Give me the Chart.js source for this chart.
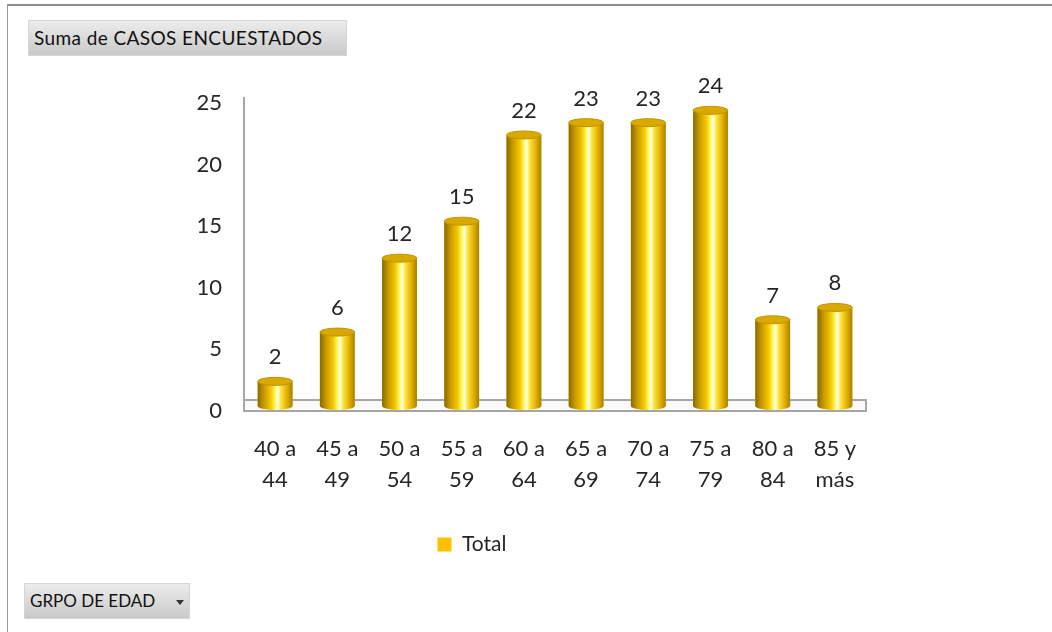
<!DOCTYPE html>
<html>
<head>
<meta charset="utf-8">
<script src="https://cdn.jsdelivr.net/npm/chart.js@4/dist/chart.umd.min.js"></script>
<style>
  html, body { margin: 0; padding: 0; background: #fff; }
  #wrap { position: relative; width: 1052px; height: 632px; overflow: hidden; }
  #frame { position: absolute; left: 7px; top: 4px; right: -2px; bottom: -2px; border-top: 2px solid #8c8c8c; border-left: 1px solid #9a9a9a; }
  .btn {
    position: absolute; box-sizing: border-box;
    background: linear-gradient(#ececec, #c9c9c9);
    border: 1px solid #d6d6d6;
    font-family: Lato, "Noto Sans", sans-serif; color: #111;
    line-height: 34px; padding-left: 5px; white-space: nowrap;
  }
  #title { left: 28px; top: 20px; width: 319px; height: 36px; font-size: 19px; letter-spacing: 0.4px; }
  #field { left: 24px; top: 583px; width: 166px; height: 36px; font-size: 17px; }
  #field .arrow { position: absolute; left: 151px; top: 16px; width: 0; height: 0;
    border-left: 4px solid transparent; border-right: 4px solid transparent; border-top: 5px solid #333; }
  canvas { position: absolute; left: 0; top: 0; }
</style>
</head>
<body>
<div id="wrap">
  <div id="frame"></div>
  <canvas id="myBarChart" width="1052" height="632"></canvas>
  <div class="btn" id="title">Suma de CASOS ENCUESTADOS</div>
  <div class="btn" id="field">GRPO DE EDAD<span class="arrow"></span></div>
</div>
<script>
const categories = [["40 a", "44"], ["45 a", "49"], ["50 a", "54"], ["55 a", "59"], ["60 a", "64"],
                    ["65 a", "69"], ["70 a", "74"], ["75 a", "79"], ["80 a", "84"], ["85 y", "más"]];
const totals = [2, 6, 12, 15, 22, 23, 23, 24, 7, 8];
const yTicks = [0, 5, 10, 15, 20, 25];
const seriesName = "Total";

const textColor = "#262626";
const fontFamily = "Lato, 'Noto Sans', sans-serif";

function cylinderGradient(ctx, left, right) {
    const g = ctx.createLinearGradient(left, 0, right, 0);
    g.addColorStop(0, "#8a6a00");
    g.addColorStop(0.18, "#c79a00");
    g.addColorStop(0.38, "#f5c800");
    g.addColorStop(0.52, "#ffff70");
    g.addColorStop(0.58, "#fffff0");
    g.addColorStop(0.66, "#ffe640");
    g.addColorStop(0.85, "#e0ae00");
    g.addColorStop(1, "#a88000");
    return g;
}

// floor slab under the bars
const floorPlugin = {
    id: "floor",
    beforeDatasetsDraw(chart) {
        const { ctx, chartArea } = chart;
        const y0 = chart.scales.y.getPixelForValue(0);
        ctx.save();
        ctx.fillStyle = "#fafafa";
        ctx.strokeStyle = "#a6a6a6";
        ctx.lineWidth = 2;
        ctx.fillRect(chartArea.left, y0 - 6, chartArea.right - chartArea.left, 11);
        ctx.strokeRect(chartArea.left, y0 - 6, chartArea.right - chartArea.left, 11);
        ctx.restore();
    }
};

// shading, caps and value labels on top of the library's bars
const cylinderPlugin = {
    id: "cylinder",
    afterDatasetsDraw(chart) {
        const { ctx } = chart;
        const meta = chart.getDatasetMeta(0);
        ctx.save();
        meta.data.forEach((bar, i) => {
            const { x, y, base, width } = bar.getProps(["x", "y", "base", "width"], true);
            const left = x - width / 2, right = x + width / 2;
            const ry = 4;
            ctx.fillStyle = cylinderGradient(ctx, left, right);
            ctx.beginPath();
            ctx.moveTo(left, y);
            ctx.lineTo(left, base);
            ctx.ellipse(x, base, width / 2, ry, 0, Math.PI, 0, true);
            ctx.lineTo(right, y);
            ctx.closePath();
            ctx.fill();
            // top cap
            ctx.beginPath();
            ctx.ellipse(x, y, width / 2, ry, 0, 0, Math.PI * 2);
            ctx.fillStyle = "#d9a900";
            ctx.fill();
            ctx.strokeStyle = "#c29400";
            ctx.lineWidth = 1;
            ctx.stroke();
            // value label
            ctx.fillStyle = textColor;
            ctx.font = "22px " + fontFamily;
            ctx.textAlign = "center";
            ctx.textBaseline = "alphabetic";
            ctx.fillText(String(totals[i]), x, y - 17);
        });
        ctx.restore();
    }
};

document.addEventListener("DOMContentLoaded", function () {
    const ctx = document.getElementById("myBarChart").getContext("2d");

    const data = {
        labels: categories,
        datasets: [
            {
                label: seriesName,
                data: totals,
                backgroundColor: "#ffc000",
                borderWidth: 0,
                categoryPercentage: 1,
                barPercentage: 0.56,
            },
        ],
    };

    const options = {
        responsive: false,
        animation: false,
        layout: { padding: { left: 78, right: 186, top: 98, bottom: 67 } },
        plugins: {
            legend: {
                display: true,
                position: "bottom",
                labels: {
                    boxWidth: 14,
                    boxHeight: 14,
                    color: textColor,
                    padding: 10,
                    font: { family: fontFamily, size: 21 },
                },
            },
            tooltip: { enabled: false },
        },
        scales: {
            x: {
                grid: { display: false, drawTicks: false },
                border: { display: false },
                ticks: {
                    color: textColor,
                    padding: 28,
                    maxRotation: 0,
                    font: { family: fontFamily, size: 22, lineHeight: 1.4 },
                },
                afterFit(scale) { scale.height = 118; },
            },
            y: {
                min: 0,
                max: 25,
                afterBuildTicks(scale) { scale.ticks = yTicks.map(v => ({ value: v })); },
                grid: { display: false, drawTicks: false },
                border: { display: true, color: "#a6a6a6", width: 2 },
                ticks: {
                    color: textColor,
                    padding: 22,
                    labelOffset: 5,
                    font: { family: fontFamily, size: 22 },
                },
                afterFit(scale) { scale.width = 166; },
            },
        },
    };

    new Chart(ctx, {
        type: "bar",
        data: data,
        options: options,
        plugins: [floorPlugin, cylinderPlugin],
    });
});
</script>
</body>
</html>
